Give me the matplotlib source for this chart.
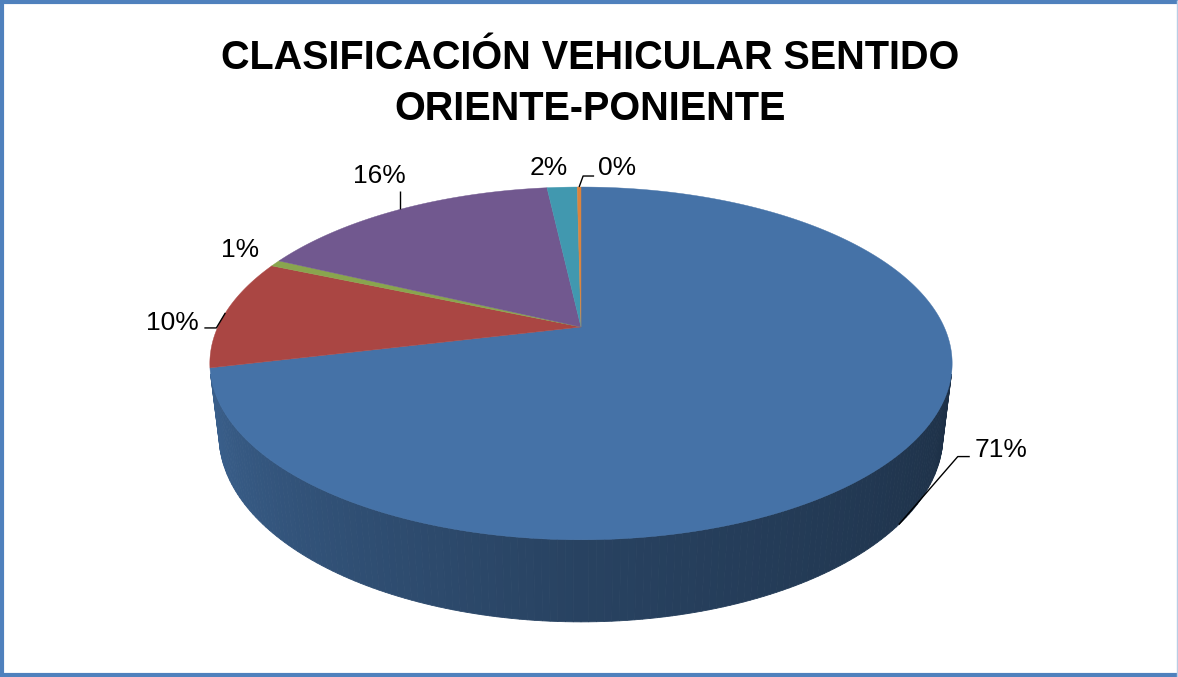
import numpy as np
import matplotlib

matplotlib.use("Agg")
import matplotlib.pyplot as plt
from matplotlib.colors import to_rgb
from matplotlib.patches import Polygon

# vehicle class shares (%), clockwise from 12 o'clock
shares = [71.3, 10.1, 0.6, 16.2, 1.6, 0.2]
slice_colors = ["#4572A7", "#AA4643", "#89A54E", "#71588F", "#4198AF", "#DB843D"]
title = "CLASIFICACIÓN VEHICULAR SENTIDO\nORIENTE-PONIENTE"

W, H = 1178, 677
FONT = "Liberation Sans"

# simple perspective camera looking down on a disk of radius 1
SIN_E = 0.465
COS_E = np.sqrt(1 - SIN_E ** 2)
DIST = 4.29
DEPTH = 0.225
SCALE = 1558
CX, CY = 581, 327

# label placement: (text dx, baseline dy) from the slice anchor, leader vertices, anchor edge
label_layout = [
    ((102, -68), [(59, -68), (71, -68)], "bottom"),
    ((-53, 17), [(-9, 15), (-21, 15)], "top"),
    ((-35, -6), [], "top"),
    ((-20, -26), [(0, -18)], "top"),
    ((-13, -12), [], "top"),
    ((38, -12), [(4, -11), (15, -11)], "top"),
]


def project(t, z=0.0):
    x, y = np.cos(t), np.sin(t)
    w = DIST + y * COS_E - z * SIN_E
    return CX + SCALE * x / w, CY - SCALE * (y * SIN_E + z * COS_E) / w


def side_shade(t_deg):
    return np.interp(t_deg, [-180, -90, 0], [0.9, 0.58, 0.39])


fig = plt.figure(figsize=(W / 100, H / 100), dpi=100, facecolor="white")
ax = fig.add_axes([0, 0, 1, 1])
ax.set_xlim(0, W)
ax.set_ylim(H, 0)
ax.set_axis_off()

bounds = 90 - 3.6 * np.concatenate([[0], np.cumsum(shares)])

# outer wall: only the part whose normal faces the camera
limit = np.degrees(np.arcsin(1 / (DIST * COS_E)))
for i, color in enumerate(slice_colors):
    a, b = bounds[i], bounds[i + 1]
    lo, hi = max(b, -180 + limit), min(a, -limit)
    if lo >= hi:
        continue
    edges = np.linspace(lo, hi, max(2, int(hi - lo) + 2))
    base = np.array(to_rgb(color))
    for t0, t1 in zip(edges[:-1], edges[1:]):
        r0, r1 = np.radians(t0), np.radians(t1)
        pts = [project(r0), project(r1), project(r1, -DEPTH), project(r0, -DEPTH)]
        shade = base * side_shade((t0 + t1) / 2)
        ax.add_patch(Polygon(pts, closed=True, facecolor=shade, edgecolor=shade, linewidth=0.6))

# top face wedges
for i, color in enumerate(slice_colors):
    a, b = bounds[i], bounds[i + 1]
    arc = np.radians(np.linspace(a, b, max(3, int(abs(a - b) * 2))))
    xs, ys = project(arc)
    pts = [(CX, CY)] + list(zip(xs, ys))
    ax.add_patch(Polygon(pts, closed=True, facecolor=color, edgecolor=color, linewidth=0.3))

# percentage labels with leader lines
for i, v in enumerate(shares):
    (tx, ty), leader, edge = label_layout[i]
    mid = np.radians((bounds[i] + bounds[i + 1]) / 2)
    ax_, ay_ = project(mid, -DEPTH if edge == "bottom" else 0.0)
    if leader:
        lx = [ax_] + [ax_ + dx for dx, _ in leader]
        ly = [ay_] + [ay_ + dy for _, dy in leader]
        ax.plot(lx, ly, color="black", linewidth=1.0, solid_capstyle="butt")
    ax.text(ax_ + tx, ay_ + ty, f"{round(v):.0f}%", ha="center", va="baseline",
            fontsize=19, family=FONT, color="black")

ax.text(590, 39, title, ha="center", va="top", fontsize=28.5, family=FONT,
        fontweight="bold", linespacing=1.45, color="black")

# chart frame
frame = "#4F81BD"
ax.plot([2, 2], [0, H], color=frame, linewidth=3, solid_capstyle="butt")
ax.plot([0, W], [2, 2], color=frame, linewidth=3, solid_capstyle="butt")
ax.plot([0, W], [H - 2, H - 2], color=frame, linewidth=3, solid_capstyle="butt")
ax.plot([W - 1, W - 1], [0, H], color="#B9CDE5", linewidth=1, solid_capstyle="butt")

fig.savefig("out.png", dpi=100)
